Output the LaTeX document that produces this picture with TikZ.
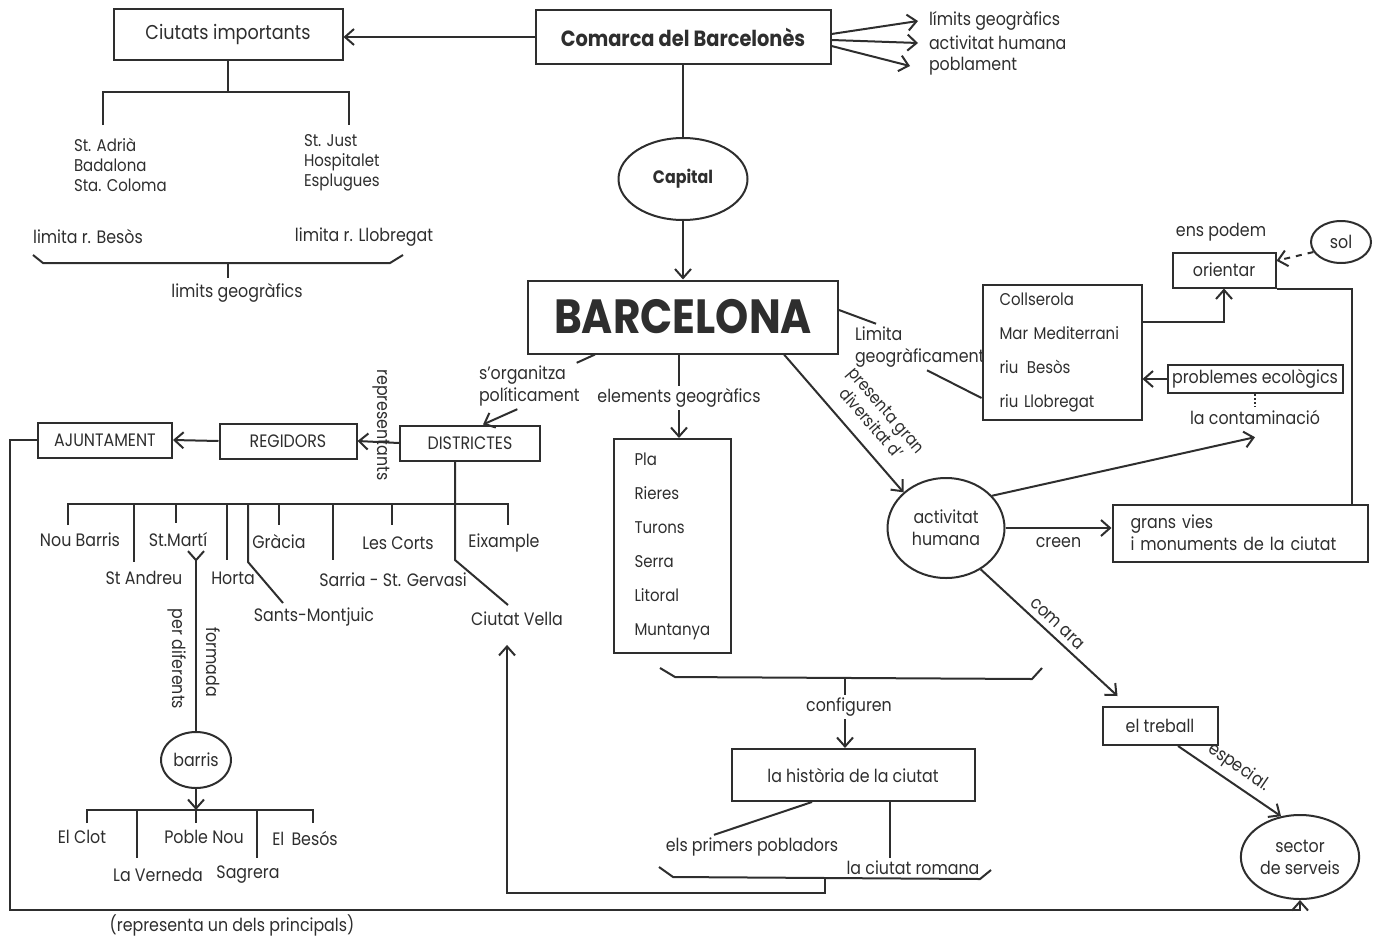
\documentclass[tikz,border=0pt]{standalone}
\usepackage{fontspec}
\setmainfont{Poppins}[FakeStretch=0.88]
\usetikzlibrary{arrows.meta,shapes.geometric}
\definecolor{ink}{HTML}{2E2E2E}
\begin{document}
\begin{tikzpicture}[x=0.5pt,y=-0.5pt,color=ink,line width=1pt,
  box/.style={draw,rectangle,inner sep=2pt},
  oval/.style={draw,ellipse,inner sep=1pt},
  lbl/.style={inner sep=1pt},
  arr/.style={-{Straight Barb[length=4.5pt,width=8pt]}},
  font=\fontsize{9}{11}\selectfont]
\useasboundingbox (0,0) rectangle (1374,942);
\node[box,minimum width=114.5pt,minimum height=25.5pt,font=\fontsize{10}{12}\selectfont] (ciutats) at (228,34) {Ciutats importants};
\node[box,minimum width=147.5pt,minimum height=27pt,font=\bfseries\fontsize{11}{12}\selectfont] (comarca) at (683,37) {Comarca del Barcelonès};
\node[lbl,anchor=west] (limgeo) at (926,21) {límits geogràfics};
\node[lbl,anchor=west] (acthum) at (926,43) {activitat humana};
\node[lbl,anchor=west] (pobla) at (926,66) {poblament};
\draw[arr] (comarca.west) -- (comarca.west -| ciutats.east);
\draw[arr] ([yshift=1.5pt]comarca.east) -- ([xshift=-4pt]limgeo.west);
\draw[arr] ([yshift=-1.5pt]comarca.east) -- ([xshift=-4pt]acthum.west);
\draw[arr] ([yshift=-4.5pt]comarca.east) -- ([xshift=-8pt]pobla.west);
\node[oval,minimum width=64.5pt,minimum height=41pt,font=\bfseries\fontsize{9}{11}\selectfont] (capital) at (683,179) {Capital};
\node[box,minimum width=155pt,minimum height=36.5pt,font=\bfseries\fontsize{24}{26}\selectfont] (barcelona) at (683,317) {BARCELONA};
\draw (comarca.south) -- (capital.north);
\draw[arr] (capital.south) -- (barcelona.north);
\draw (ciutats.south) -- (228,92);
\draw (103,125) -- (103,92) -- (349,92) -- (349,125);
\node[lbl,anchor=west,align=left,font=\fontsize{8.5}{10}\selectfont] (adria) at (71,165) {St. Adrià\\Badalona\\Sta. Coloma};
\node[lbl,anchor=west,align=left,font=\fontsize{8.5}{10}\selectfont] (just) at (301,163) {St. Just\\Hospitalet\\Esplugues};
\node[lbl] (besos) at (88,236) {limita r. Besòs};
\node[lbl] (llobregat) at (364,237) {limita r. Llobregat};
\draw (33,255) -- (43,263) -- (390,263) -- (403,255);
\draw (228,263) -- (228,278);
\node[lbl] (limits) at (237,293) {limits geogràfics};
\node[box,minimum width=67pt,minimum height=17.5pt] (ajunt) at (105,440) {AJUNTAMENT};
\node[box,minimum width=68.5pt,minimum height=17.5pt] (regid) at (288,441) {REGIDORS};
\node[box,minimum width=70pt,minimum height=17.5pt] (distr) at (470,443) {DISTRICTES};
\draw[arr] (distr.west) -- (regid.east);
\draw[arr] (regid.west) -- (ajunt.east);
\node[lbl,rotate=-90] (repres) at (381,425) {representants};
\node[lbl,anchor=west,align=left] (organ) at (476,386) {s'organitza\\políticament};
\draw ([xshift=-44pt]barcelona.south) -- ([xshift=-3pt]organ.north east);
\draw[arr] ([xshift=-6pt]organ.south) -- ([xshift=6.5pt]distr.north);
\draw (68,525) -- (68,504) -- (508,504) -- (508,525);
\draw (134,504) -- (134,562);
\draw (176,504) -- (176,523);
\draw (227,504) -- (227,560);
\draw (248,504) -- (248,562) -- (283,603);
\draw (279,504) -- (279,525);
\draw (333,504) -- (333,560);
\draw (392,504) -- (392,525);
\draw ([xshift=-7.5pt]distr.south) -- (455,560) -- (508,605);
\node[lbl] (noubarris) at (80,540) {Nou Barris};
\node[lbl] (stmarti) at (178,540) {St.Martí};
\node[lbl] (gracia) at (279,542) {Gràcia};
\node[lbl] (lescorts) at (398,543) {Les Corts};
\node[lbl] (eixample) at (504,543) {Eixample};
\node[lbl] (standreu) at (144,578) {St Andreu};
\node[lbl] (horta) at (233,578) {Horta};
\node[lbl] (sarria) at (393,580) {Sarria - St. Gervasi};
\node[lbl] (sants) at (314,617) {Sants-Montjuic};
\node[lbl] (cvella) at (517,619) {Ciutat Vella};
\node[oval,minimum width=33pt,minimum height=28pt] (barris) at (196,760) {barris};
\draw[{Straight Barb[reversed,length=4.5pt,width=8pt]}-] ([xshift=9pt]stmarti.south) -- (barris.north);
\node[lbl,rotate=-90] (perdif) at (177,659) {per diferents};
\node[lbl,rotate=-90] (formada) at (213,662) {formada};
\draw[arr] (barris.south) -- (196,810);
\draw (87,823) -- (87,810) -- (313,810) -- (313,823);
\draw (137,810) -- (137,858);
\draw (196,810) -- (196,823);
\draw (257,810) -- (257,858);
\node[lbl] (clot) at (82,837) {El Clot};
\node[lbl] (poblenou) at (204,837) {Poble Nou};
\node[lbl] (elbesos) at (305,838) {El \,Besós};
\node[lbl] (verneda) at (158,875) {La Verneda};
\node[lbl] (sagrera) at (248,875) {Sagrera};
\node[lbl] (eleml) at (679,398) {elements geogràfics};
\draw (barcelona.south -| eleml.north) -- (eleml.north);
\node[box,minimum width=58.5pt,minimum height=107pt,align=left,text width=37.5pt,inner xsep=10.5pt,font=\fontsize{8.5}{17}\selectfont] (pla) at (672,546) {Pla\\Rieres\\Turons\\Serra\\Litoral\\Muntanya};
\draw[arr] (eleml.south) -- (eleml.south |- pla.north);
\draw (660,668) -- (675,677) -- (1032,679) -- (1042,668);
\coordinate (brc) at (845,679);
\node[lbl] (config) at (849,707) {configuren};
\node[box,minimum width=121.5pt,minimum height=26pt] (hist) at (853,775) {la història de la ciutat};
\draw (brc) -- (brc |- config.north);
\draw[arr] (brc |- config.south) -- (brc |- hist.north);
\node[lbl] (pobladors) at (752,847) {els primers pobladors};
\node[lbl] (romana) at (913,868) {la ciutat romana};
\draw ([xshift=-20.5pt]hist.south) -- ([xshift=-19pt]pobladors.north);
\coordinate (hr) at ([xshift=18.5pt]hist.south);
\draw (hr) -- (hr |- romana.north);
\draw (659,867) -- (673,877) -- (980,879) -- (991,870);
\coordinate (brd) at (825,879);
\draw[arr,shorten >=8pt] (brd) -- (825,893) -| ([xshift=-5pt]cvella.south);
\node[lbl,anchor=west,align=left] (limita) at (852,347) {Limita\\geogràficament};
\draw ([yshift=3.5pt]barcelona.east) -- ([xshift=12pt]limita.north west);
\node[box,minimum height=67.5pt,align=left,text width=62.5pt,inner xsep=8.5pt,font=\fontsize{8.5}{17}\selectfont] (coll) at (1062,352) {Collserola\\Mar Mediterrani\\riu \,Besòs\\riu Llobregat};
\draw ([xshift=37.5pt]limita.south west) -- ([yshift=-23pt]coll.west);
\node[box,minimum width=51.5pt,minimum height=17.5pt] (orient) at (1224,270) {orientar};
\node[lbl] (enspodem) at (1221,232) {ens podem};
\node[oval,minimum width=30pt,minimum height=21pt] (sol) at (1341,242) {sol};
\draw[arr,dashed] (sol.200) -- (orient.10);
\draw[arr] ([yshift=15pt]coll.east) -| (orient.south);
\node[box,minimum width=127.5pt,minimum height=28.5pt,align=left,text width=109.5pt,inner xsep=9pt] (grans) at (1240,533) {grans vies\\i monuments de la ciutat};
\draw (orient.south east) -| ([xshift=56pt]grans.north);
\node[box,minimum width=87.5pt,minimum height=14pt] (probl) at (1255,379) {problemes ecològics};
\draw[arr] (probl.west) -- (probl.west -| coll.east);
\node[lbl] (contam) at (1255,417) {la contaminació};
\draw[densely dotted] (probl.south) -- (contam.north);
\node[oval,minimum width=58.5pt,minimum height=50pt,align=center] (act) at (946,528) {activitat\\humana};
\draw[arr] ([xshift=-27.5pt]barcelona.south east) -- node[lbl,sloped,above=6pt,pos=0.6,align=center,font=\fontsize{8.5}{10}\selectfont] (presenta) {presenta gran\\diversitat d'} (act.140);
\draw[arr] (act.35) -- ([yshift=-5pt]contam.south);
\draw[arr] (act.east) -- node[lbl,below=3pt] (creen) {creen} (act.east -| grans.west);
\node[box,minimum width=57.5pt,minimum height=19pt] (treball) at (1160,726) {el treball};
\draw[arr] (act.-50) -- node[lbl,sloped,above=2pt] (comara) {com ara} ([xshift=8pt,yshift=5pt]treball.north west);
\node[oval,minimum width=52.5pt,minimum height=42pt,align=center] (sector) at (1300,857) {sector\\de serveis};
\draw[arr] ([xshift=9pt]treball.south) -- node[lbl,sloped,above=2pt] (especial) {especial.} (sector.115);
\draw[arr] (ajunt.west) -| (10,910) -| (sector.south);
\node[lbl] (principals) at (232,925) {(representa un dels principals)};
\end{tikzpicture}
\end{document}
